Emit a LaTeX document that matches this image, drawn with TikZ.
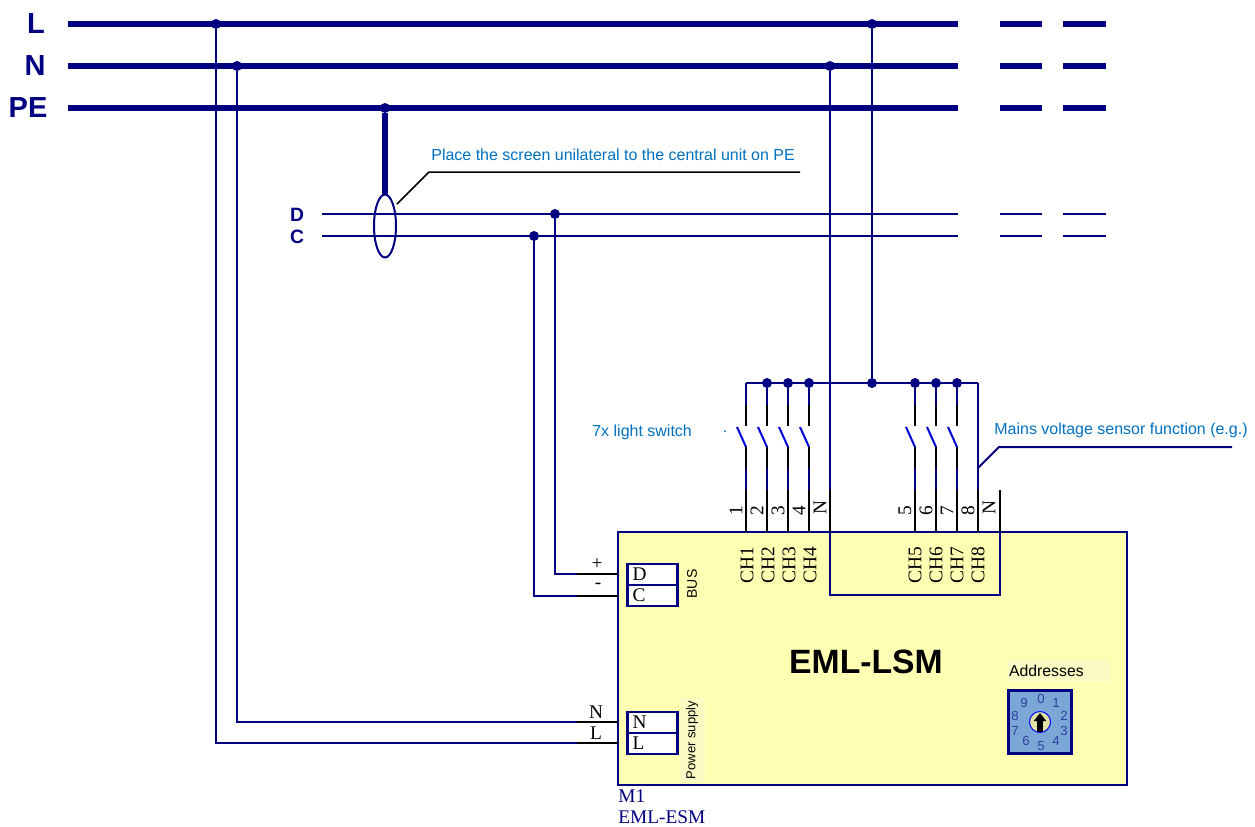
\documentclass[tikz,border=0pt]{standalone}
\usepackage{fontspec}
\setmainfont{Liberation Serif}
\setsansfont{Liberation Sans}
\definecolor{wirenavy}{HTML}{000080}
\definecolor{noteblue}{HTML}{0070C0}
\definecolor{boxyellow}{HTML}{FFFFB3}
\definecolor{stripyellow}{HTML}{FBFBC4}
\definecolor{dialblue}{HTML}{7BA7D7}
\definecolor{dialdigit}{HTML}{2F3F9F}
\definecolor{knobfill}{HTML}{E2E2A2}
\usetikzlibrary{arrows.meta,shapes.geometric}
\tikzset{
  busline/.style={draw=wirenavy,line width=0.11cm},
  navyline/.style={draw=wirenavy,line width=0.04cm},
  blackline/.style={draw=black,line width=0.04cm},
  blade/.style={draw=blue!85!black,line width=0.04cm},
  dot/.style={circle,fill=wirenavy,inner sep=0,minimum size=0.2cm},
  buslabel/.style={font=\sffamily\bfseries\fontsize{16.5}{18}\selectfont,text=wirenavy,inner sep=0},
  smalllabel/.style={font=\sffamily\bfseries\fontsize{11}{12}\selectfont,text=wirenavy,inner sep=0},
  notetext/.style={font=\sffamily\fontsize{9.1}{10}\selectfont,text=noteblue,inner sep=0},
  pintext/.style={font=\fontsize{11}{12}\selectfont,inner sep=0},
  terminal/.style={draw=wirenavy,line width=0.05cm,fill=white,font=\fontsize{11}{12}\selectfont,inner ysep=0,inner xsep=0.1cm,text width=0.8cm,minimum height=0.42cm,align=left},
  dialnum/.style={font=\sffamily\fontsize{7.5}{8}\selectfont,text=dialdigit,inner sep=0}
}
\begin{document}
\begin{tikzpicture}[x=0.02cm,y=-0.02cm]
\useasboundingbox (0,0) rectangle (1255,826);
\node[draw=wirenavy,line width=0.05cm,fill=boxyellow,minimum width=10.18cm,minimum height=5.06cm,inner sep=0] (esm) at (872.5,658.5) {};
\node[buslabel] (labL) at (36,24) {L};
\node[buslabel] (labN) at (35,66) {N};
\node[buslabel] (labPE) at (28,108) {PE};
\coordinate (Lstart) at (68,24);
\coordinate (Nstart) at (68,66);
\coordinate (PEstart) at (68,108);
\coordinate (Lend) at (958,24);
\coordinate (Nend) at (958,66);
\coordinate (PEend) at (958,108);
\draw[busline] (Lstart) -- (Lend) ++(42,0) -- ++(42,0) ++(21,0) -- ++(43,0);
\draw[busline] (Nstart) -- (Nend) ++(42,0) -- ++(42,0) ++(21,0) -- ++(43,0);
\draw[busline] (PEstart) -- (PEend) ++(42,0) -- ++(42,0) ++(21,0) -- ++(43,0);
\node[smalllabel] (labD) at (297,215) {D};
\node[smalllabel] (labC) at (297,237) {C};
\coordinate (Dstart) at (322,214);
\coordinate (Cstart) at (322,236);
\coordinate (Dend) at (958,214);
\coordinate (Cend) at (958,236);
\draw[navyline] (Dstart) -- (Dend) ++(42,0) -- ++(42,0) ++(21,0) -- ++(43,0);
\draw[navyline] (Cstart) -- (Cend) ++(42,0) -- ++(42,0) ++(21,0) -- ++(43,0);
\node[dot] (jL1) at (216,24) {};
\node[dot] (jL2) at (872,24) {};
\node[dot] (jN1) at (237,66) {};
\node[dot] (jN2) at (830,66) {};
\node[dot] (jPE) at (385,108) {};
\node[dot] (jD) at (555,214) {};
\node[dot] (jC) at (534,236) {};
\node[draw=wirenavy,line width=0.04cm,ellipse,minimum width=0.44cm,minimum height=1.26cm,inner sep=0] (screen) at (385,226) {};
\draw[draw=wirenavy,line width=0.12cm] (jPE) -- (screen.north);
\coordinate (scrnote) at (397,204);
\coordinate (scrbend) at (429,172);
\coordinate (scrnoteend) at (800,172);
\draw[blackline,line width=0.03cm] (scrnote) -- (scrbend) -- (scrnoteend);
\node[notetext,anchor=west] (scrtext) at (431,155) {Place the screen unilateral to the central unit on PE};
\coordinate (busD) at (618,574);
\coordinate (busC) at (618,596);
\coordinate (pwrN) at (618,722);
\coordinate (pwrL) at (618,743);
\draw[navyline] (jD) |- (busD);
\draw[navyline] (jC) |- (busC);
\draw[navyline] (jN1) |- (pwrN);
\draw[navyline] (jL1) |- (pwrL);
\draw[blackline] (busD) -- ++(-41,0);
\draw[blackline] (busC) -- ++(-41,0);
\draw[blackline] (pwrN) -- ++(-41,0);
\draw[blackline] (pwrL) -- ++(-41,0);
\node[pintext] (plus) at (597,564) {+};
\node[pintext] (minus) at (598,586) {-};
\node[pintext] (wireN) at (596,712) {N};
\node[pintext] (wireL) at (596,733) {L};
\node[terminal] (termD) at (652.5,574.5) {D};
\node[terminal] (termC) at (652.5,595.5) {C};
\node[terminal] (termN) at (652.5,722.5) {N};
\node[terminal] (termL) at (652.5,743.5) {L};
\node[rotate=90,font=\sffamily\fontsize{8}{10}\selectfont,inner sep=0] (bus) at (692,584) {BUS};
\node[rotate=90,fill=stripyellow,font=\sffamily\fontsize{7.4}{10}\selectfont,inner sep=0,minimum width=1.68cm,minimum height=0.5cm] (power) at (692,740) {Power supply};
\node[dot] (j1) at (767,383) {};
\node[dot] (j2) at (788,383) {};
\node[dot] (j3) at (809,383) {};
\node[dot] (j4) at (872,383) {};
\node[dot] (j5) at (915,383) {};
\node[dot] (j6) at (936,383) {};
\node[dot] (j7) at (957,383) {};
\coordinate (t0) at (746,383);
\coordinate (t8) at (978,383);
\draw[navyline] (t0) -- (t8);
\draw[navyline] (jL2) -- (j4);
\coordinate (loopA) at (830,595);
\coordinate (loopB) at (1000,595);
\coordinate (loopC) at (1000,490);
\draw[navyline] (jN2) -- (loopA) -- (loopB) -- (loopC);
\draw[blackline] (830,490) -- (830,532);
\draw[blackline] (loopC) -- ++(0,42);
\draw[navyline] (t0) -- ++(0,22) ++(0,63) -- ++(0,22);
\draw[blackline] (t0) ++(0,22) -- ++(0,21) ++(0,21) -- ++(0,21) ++(0,22) -- ++(0,42);
\draw[blade] (t0) ++(-9,44) -- ++(9,20);
\draw[navyline] (j1) -- ++(0,22) ++(0,63) -- ++(0,22);
\draw[blackline] (j1) ++(0,22) -- ++(0,21) ++(0,21) -- ++(0,21) ++(0,22) -- ++(0,42);
\draw[blade] (j1) ++(-9,44) -- ++(9,20);
\draw[navyline] (j2) -- ++(0,22) ++(0,63) -- ++(0,22);
\draw[blackline] (j2) ++(0,22) -- ++(0,21) ++(0,21) -- ++(0,21) ++(0,22) -- ++(0,42);
\draw[blade] (j2) ++(-9,44) -- ++(9,20);
\draw[navyline] (j3) -- ++(0,22) ++(0,63) -- ++(0,22);
\draw[blackline] (j3) ++(0,22) -- ++(0,21) ++(0,21) -- ++(0,21) ++(0,22) -- ++(0,42);
\draw[blade] (j3) ++(-9,44) -- ++(9,20);
\draw[navyline] (j5) -- ++(0,22) ++(0,63) -- ++(0,22);
\draw[blackline] (j5) ++(0,22) -- ++(0,21) ++(0,21) -- ++(0,21) ++(0,22) -- ++(0,42);
\draw[blade] (j5) ++(-9,44) -- ++(9,20);
\draw[navyline] (j6) -- ++(0,22) ++(0,63) -- ++(0,22);
\draw[blackline] (j6) ++(0,22) -- ++(0,21) ++(0,21) -- ++(0,21) ++(0,22) -- ++(0,42);
\draw[blade] (j6) ++(-9,44) -- ++(9,20);
\draw[navyline] (j7) -- ++(0,22) ++(0,63) -- ++(0,22);
\draw[blackline] (j7) ++(0,22) -- ++(0,21) ++(0,21) -- ++(0,21) ++(0,22) -- ++(0,42);
\draw[blade] (j7) ++(-9,44) -- ++(9,20);
\draw[navyline] (t8) -- ++(0,107);
\draw[blackline] (t8) ++(0,107) -- ++(0,42);
\coordinate (mainsa) at (978,468);
\coordinate (mainsb) at (999,447);
\coordinate (mainsc) at (1232,447);
\draw[navyline] (mainsa) -- (mainsb) -- (mainsc);
\node[notetext,anchor=west] (mainstext) at (994,430) {Mains voltage sensor function (e.g.)};
\node[notetext,anchor=west] (lighttext) at (592,432) {7x light switch};
\node[notetext] (lightdot) at (725,432) {.};
\node[rotate=90,pintext] (p1) at (736,511) {1};
\node[rotate=90,pintext] (p2) at (757,511) {2};
\node[rotate=90,pintext] (p3) at (778,511) {3};
\node[rotate=90,pintext] (p4) at (799,511) {4};
\node[rotate=90,pintext] (pn1) at (820,508) {N};
\node[rotate=90,pintext] (p5) at (905,511) {5};
\node[rotate=90,pintext] (p6) at (926,511) {6};
\node[rotate=90,pintext] (p7) at (947,511) {7};
\node[rotate=90,pintext] (p8) at (968,511) {8};
\node[rotate=90,pintext] (pn2) at (989,508) {N};
\node[rotate=90,pintext] (ch1) at (747,565) {CH1};
\node[rotate=90,pintext] (ch2) at (768,565) {CH2};
\node[rotate=90,pintext] (ch3) at (789,565) {CH3};
\node[rotate=90,pintext] (ch4) at (810,565) {CH4};
\node[rotate=90,pintext] (ch5) at (915,565) {CH5};
\node[rotate=90,pintext] (ch6) at (936,565) {CH6};
\node[rotate=90,pintext] (ch7) at (957,565) {CH7};
\node[rotate=90,pintext] (ch8) at (978,565) {CH8};
\node[font=\sffamily\bfseries\fontsize{19.2}{21}\selectfont,inner sep=0] (title) at (866,662) {EML-LSM};
\node[fill=stripyellow,font=\sffamily\fontsize{9}{10}\selectfont,inner xsep=0.02cm,inner ysep=0,text width=2cm,minimum height=0.44cm,align=left] (addr) at (1059,670.5) {Addresses};
\node[draw=wirenavy,line width=0.06cm,fill=dialblue,minimum size=1.27cm,inner sep=0] (dial) at (1040,722) {};
\node[circle,draw=blue,line width=0.02cm,fill=knobfill,minimum size=0.42cm,inner sep=0] (knob) at (1040,722) {};
\coordinate (arrowtail) at (1040,732);
\coordinate (arrowtip) at (1040,713);
\draw[line width=0.11cm,-{Triangle[length=0.16cm,width=0.24cm]}] (arrowtail) -- (arrowtip);
\node[dialnum] (n0) at (1041,699) {0};
\node[dialnum] (n1) at (1056,703) {1};
\node[dialnum] (n2) at (1064,716) {2};
\node[dialnum] (n3) at (1064,731) {3};
\node[dialnum] (n4) at (1056,741) {4};
\node[dialnum] (n5) at (1041,746) {5};
\node[dialnum] (n6) at (1026,741) {6};
\node[dialnum] (n7) at (1015,731) {7};
\node[dialnum] (n8) at (1015,716) {8};
\node[dialnum] (n9) at (1024,703) {9};
\node[pintext,text=wirenavy,anchor=west] (m1) at (618,796) {M1};
\node[pintext,text=wirenavy,anchor=west] (esmname) at (618,817.5) {EML-ESM};
\end{tikzpicture}
\end{document}
